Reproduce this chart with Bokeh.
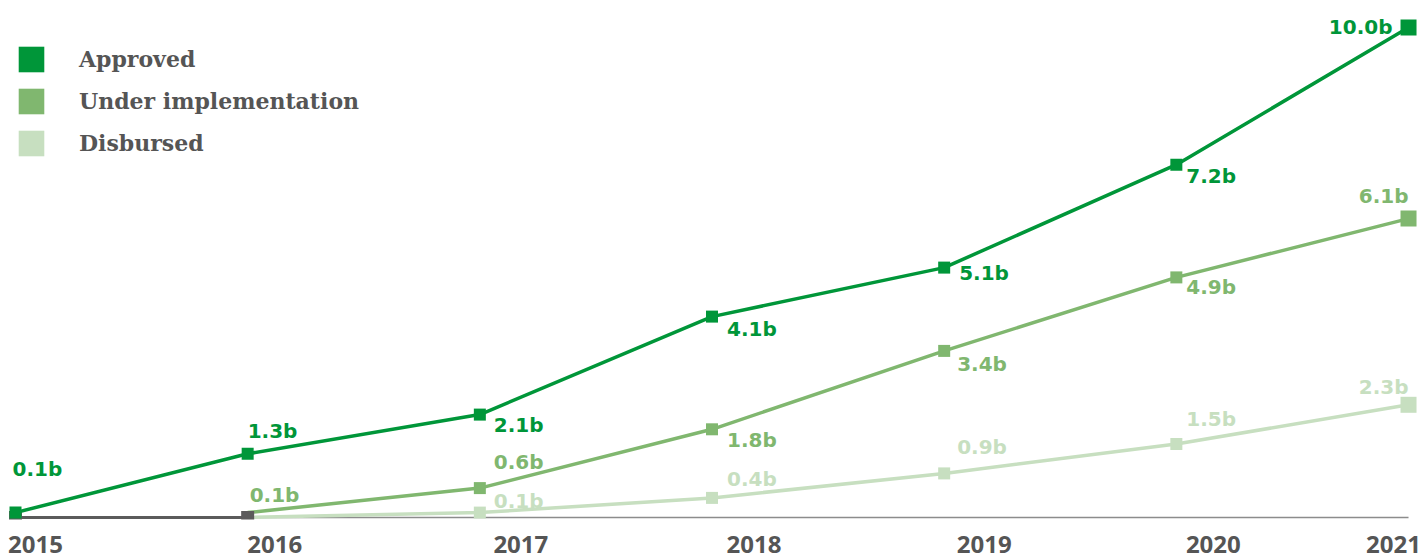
from bokeh.plotting import figure
from bokeh.models import (Range1d, FixedTicker, PrintfTickFormatter, Legend,
                          LegendItem, ColumnDataSource)
from bokeh.core.properties import value
from bokeh.embed import file_html
from bokeh.resources import INLINE

# ---------------- data ----------------
years = [2015, 2016, 2017, 2018, 2019, 2020, 2021]
approved = [0.1, 1.3, 2.1, 4.1, 5.1, 7.2, 10.0]

impl_years = [2016, 2017, 2018, 2019, 2020, 2021]
under_impl = [0.1, 0.6, 1.8, 3.4, 4.9, 6.1]

disb_years = [2016, 2017, 2018, 2019, 2020, 2021]
disbursed = [0.0, 0.1, 0.4, 0.9, 1.5, 2.3]

pre_years = [2015, 2016]
pre_values = [0.0, 0.0]

series_names = ["Approved", "Under implementation", "Disbursed"]
tick_labels = ["2015", "2016", "2017", "2018", "2019", "2020", "2021"]

# ---------------- styling / layout ----------------
C_APP = "#009639"
C_IMP = "#80b76f"
C_DIS = "#c7dfc0"
C_GRAY = "#5b5b5b"
C_TEXT = "#555555"

W, H = 1423, 559
BOTTOM = 40
FRAME_H = H - BOTTOM
PX_PER_YEAR = 232.17
PX_PER_B = 49.0
ZERO_FROM_BOTTOM = 2   # px

x0 = 2015 - 15 / PX_PER_YEAR
x_range = Range1d(x0, x0 + W / PX_PER_YEAR)
y0 = -ZERO_FROM_BOTTOM / PX_PER_B
y_range = Range1d(y0, y0 + FRAME_H / PX_PER_B)

p = figure(width=W, height=H, x_range=x_range, y_range=y_range,
           output_backend="svg", toolbar_location=None,
           y_axis_location=None, min_border=0, min_border_bottom=BOTTOM,
           background_fill_color="white", border_fill_color="white")
p.outline_line_color = None
p.xgrid.visible = False
p.ygrid.visible = False

# x axis: labels sit slightly right of each year's point, as in the original
label_shift_px = [20, 27, 41, 42, 40, 37, -15]
ax = p.xaxis[0]
ax.ticker = FixedTicker(ticks=[y + s / PX_PER_YEAR for y, s in zip(years, label_shift_px)],
                        minor_ticks=[])
ax.formatter = PrintfTickFormatter(format="%.0f")
ax.axis_line_color = None
ax.major_tick_line_color = None
ax.minor_tick_line_color = None
ax.major_tick_out = 0
ax.major_tick_in = 0
ax.major_label_standoff = 16
ax.major_label_text_font = "Open Sans"
ax.major_label_text_font_style = "bold"
ax.major_label_text_font_size = "24px"
ax.major_label_text_color = C_TEXT

# baseline
p.line([years[0], years[-1]], [0, 0], line_color="#8c8c8c", line_width=1.5)

def marker_sizes(n):
    return [12] * (n - 1) + [16]

# disbursed
p.line(disb_years, disbursed, line_color=C_DIS, line_width=3.5)
p.scatter(disb_years[1:], disbursed[1:], marker="square", size=marker_sizes(len(disbursed) - 1),
          fill_color=C_DIS, line_color=None)
# under implementation
p.line(impl_years, under_impl, line_color=C_IMP, line_width=3.5)
p.scatter(impl_years[1:], under_impl[1:], marker="square", size=marker_sizes(len(under_impl) - 1),
          fill_color=C_IMP, line_color=None)
# grey lead-in
p.line(pre_years, pre_values, line_color=C_GRAY, line_width=3)
p.scatter(pre_years, pre_values, marker="square", size=13, fill_color=C_GRAY, line_color=None)
# approved
p.line(years, approved, line_color=C_APP, line_width=3.5)
p.scatter(years, approved, marker="square", size=marker_sizes(len(approved)),
          fill_color=C_APP, line_color=None)

# value labels
def add_labels(xs, vals, dx, dy, color):
    n = len(xs)
    src = ColumnDataSource(dict(
        x=xs, y=vals, t=[f"{v:.1f}b" for v in vals],
        dx=dx, dy=dy, align=["left"] * (n - 1) + ["right"]))
    p.text(x="x", y="y", text="t", x_offset="dx", y_offset="dy", text_align="align",
           source=src, text_baseline="middle", text_color=color,
           text_font=value("DejaVu Sans"), text_font_style="bold",
           text_font_size="20px")

add_labels(years, approved, [-3, 0, 14, 15, 15, 10, -16], [-44, -23, 10, 12, 5, 11, -1], C_APP)
add_labels(impl_years, under_impl, [2, 14, 15, 13, 10, 0], [-18, -26, 11, 13, 10, -23], C_IMP)
add_labels(disb_years[1:], disbursed[1:], [14, 15, 13, 10, 0], [-12, -19, -26, -25, -18], C_DIS)

# legend (zero-area swatch renderers anchored at each series' first point)
legend_items = []
for name, col, xs, vs in zip(series_names, [C_APP, C_IMP, C_DIS],
                             [years, impl_years, disb_years],
                             [approved, under_impl, disbursed]):
    r = p.quad(left=[xs[0]], right=[xs[0]], top=[vs[0]], bottom=[vs[0]],
               fill_color=col, line_color=None)
    legend_items.append(LegendItem(label=name, renderers=[r]))

legend = Legend(items=legend_items, location=(15, FRAME_H - 43 - 116),
                orientation="vertical", glyph_width=32, glyph_height=32,
                label_standoff=32, spacing=10, padding=0, margin=0,
                border_line_color=None, background_fill_alpha=0,
                label_text_font="DejaVu Serif", label_text_font_style="bold",
                label_text_font_size="22px", label_text_color=C_TEXT,
                label_text_baseline="middle")
p.add_layout(legend)

open("out.html", "w").write(file_html(p, INLINE))
